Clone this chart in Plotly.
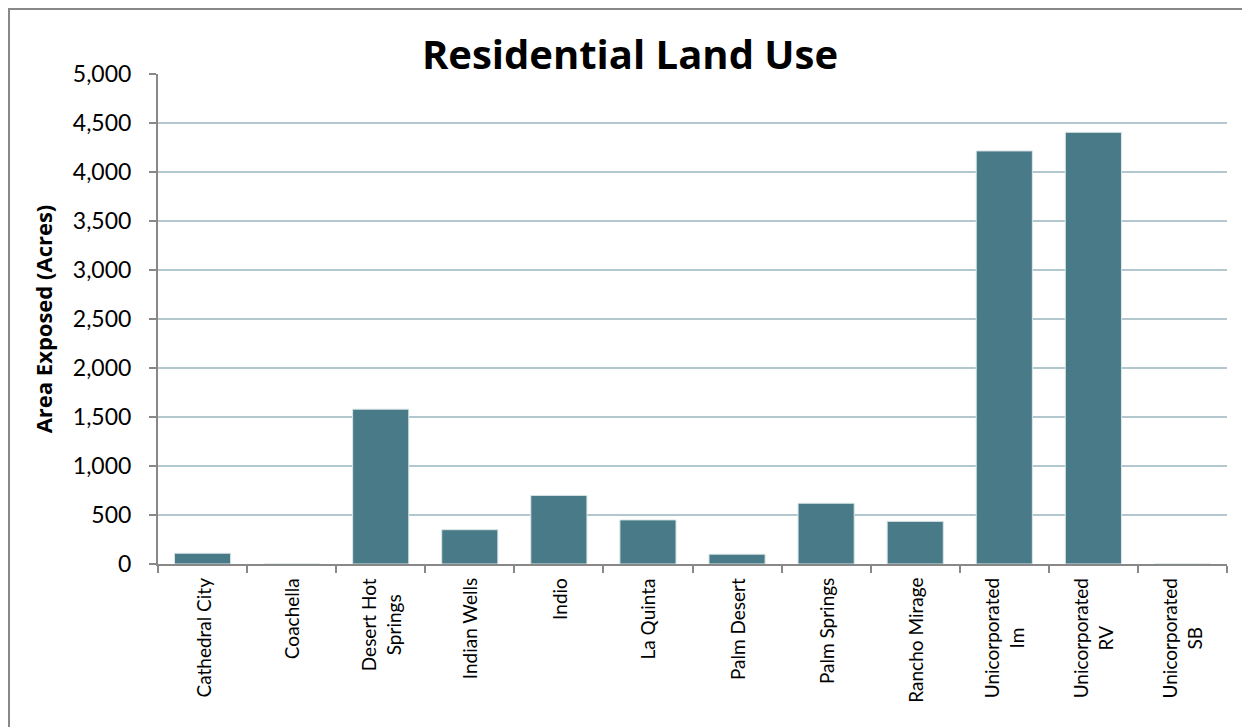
import plotly.graph_objects as go

categories = ["Cathedral City", "Coachella", "Desert Hot<br>Springs", "Indian Wells", "Indio",
              "La Quinta", "Palm Desert", "Palm Springs", "Rancho Mirage",
              "Unicorporated<br>Im", "Unicorporated<br>RV", "Unicorporated<br>SB"]
values = [110, 0, 1580, 350, 700, 450, 100, 620, 435, 4215, 4405, 0]
y_ticks = [0, 500, 1000, 1500, 2000, 2500, 3000, 3500, 4000, 4500, 5000]
y_tick_text = ["0", "500", "1,000", "1,500", "2,000", "2,500", "3,000", "3,500", "4,000", "4,500", "5,000"]

# page body has an 8px margin; figure coordinates are offset accordingly
OFF = 8
W, H = 1250 - OFF, 727 - OFF
L, T = 158 - OFF, 74 - OFF
R = W - (1227 - OFF)
B = H - (564 - OFF)
pw, ph = W - L - R, H - T - B

def px_to_paper_x(px):
    return (px - L) / pw

def px_to_paper_y(py):
    return (H - B - py) / ph

fig = go.Figure(go.Bar(
    x=categories, y=values,
    marker=dict(color="#487a87", line=dict(color="#dbe6e8", width=1)),
))

annotations = [
    dict(x=c, y=0, xref="x", yref="y", text=c, showarrow=False,
         textangle=-90, xanchor="center", yanchor="top", yshift=-12, align="center",
         font=dict(size=19, family="Lato, sans-serif", color="black"))
    for c in categories
]

fig.update_layout(
    width=W, height=H,
    margin=dict(l=L, r=R, t=T, b=B, autoexpand=False),
    paper_bgcolor="white", plot_bgcolor="white",
    bargap=0.37,
    showlegend=False,
    font=dict(family="Lato, Open Sans, sans-serif", color="black"),
    title=dict(text="<b>Residential Land Use</b>", x=(630 - OFF) / W, xanchor="center",
               y=1 - (55 - OFF) / H, yanchor="middle",
               font=dict(size=40, family="Open Sans, sans-serif", color="black")),
    xaxis=dict(
        type="category", showline=True, linecolor="#888888", linewidth=2,
        ticks="outside", tickson="boundaries", ticklen=7, tickcolor="#888888", tickwidth=2,
        showticklabels=False, showgrid=False, automargin=False,
    ),
    yaxis=dict(
        range=[0, 5000], tickvals=y_ticks, ticktext=y_tick_text,
        showline=True, linecolor="#888888", linewidth=2,
        ticks="outside", ticklen=7, tickcolor="#888888", tickwidth=2,
        tickfont=dict(size=23, family="Lato, sans-serif"),
        ticklabelstandoff=13,
        showgrid=True, gridcolor="#b3c8ce", gridwidth=1.5,
        title=dict(text="<b>Area Exposed (Acres)</b>",
                   font=dict(size=22, family="Open Sans, sans-serif"), standoff=14),
        zeroline=False, automargin=False,
    ),
    annotations=annotations,
    shapes=[dict(type="rect", xref="paper", yref="paper",
                 x0=px_to_paper_x(1), x1=px_to_paper_x(W + 20),
                 y0=px_to_paper_y(H + 20), y1=px_to_paper_y(1),
                 line=dict(color="#888888", width=2), fillcolor="rgba(0,0,0,0)", layer="below")],
)

fig.write_html("out.html")
